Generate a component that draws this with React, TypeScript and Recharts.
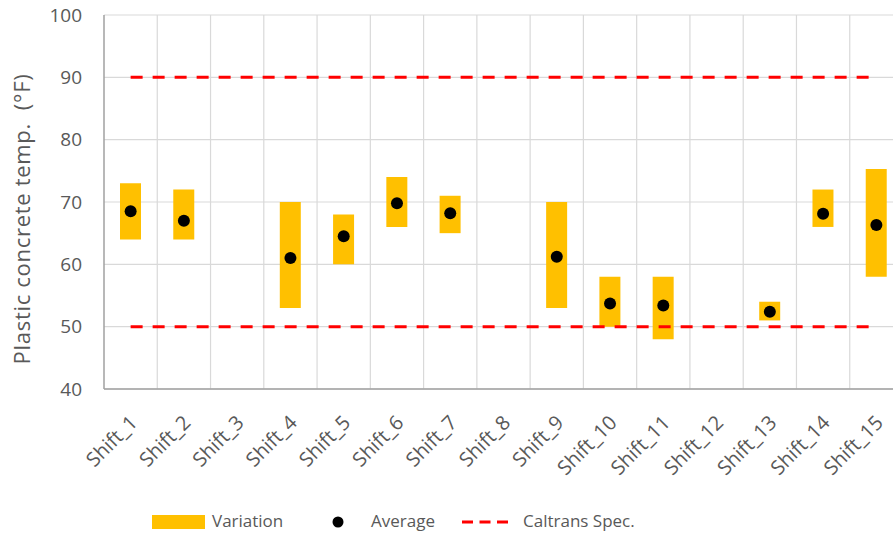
import React from 'react';
import { ComposedChart, Bar, Line, XAxis, YAxis, CartesianGrid } from 'recharts';

const shifts = ['Shift_1', 'Shift_2', 'Shift_3', 'Shift_4', 'Shift_5', 'Shift_6', 'Shift_7', 'Shift_8', 'Shift_9', 'Shift_10', 'Shift_11', 'Shift_12', 'Shift_13', 'Shift_14', 'Shift_15'];
const lowTemps = [64, 64, null, 53, 60, 66, 65, null, 53, 50, 48, null, 51, 66, 58];
const highTemps = [73, 72, null, 70, 68, 74, 71, null, 70, 58, 58, null, 54, 72, 75.3];
const avgTemps = [68.5, 67, null, 61, 64.5, 69.8, 68.2, null, 61.2, 53.7, 53.4, null, 52.4, 68.1, 66.3];
const specUpper = [90, 90, 90, 90, 90, 90, 90, 90, 90, 90, 90, 90, 90, 90, 90];
const specLower = [50, 50, 50, 50, 50, 50, 50, 50, 50, 50, 50, 50, 50, 50, 50];
const yTicks = [40, 50, 60, 70, 80, 90, 100];

const FONT = '"Open Sans", sans-serif';
const TEXT = '#595959';

const data = shifts.map((name, i) => ({
  name,
  range: lowTemps[i] == null ? null : [lowTemps[i], highTemps[i]],
  avg: avgTemps[i],
  specHigh: specUpper[i],
  specLow: specLower[i],
}));

// rotated category label, Excel style (-45deg, anchored at the end)
const ShiftTick = (props: any) => {
  const { x, y, payload } = props;
  const tx = x + 8;
  const ty = y + 27;
  return (
    <text
      x={tx}
      y={ty}
      textAnchor="end"
      transform={`rotate(-45, ${tx}, ${ty})`}
      fill={TEXT}
      fontSize={20}
      fontFamily={FONT}
    >
      {payload.value}
    </text>
  );
};

const YLabel = (props: any) => {
  const { viewBox } = props;
  const cy = viewBox.y + viewBox.height / 2 + 17;
  return (
    <text x={30} y={cy} transform={`rotate(-90, 30, ${cy})`} textAnchor="middle" fill={TEXT} fontSize={22} letterSpacing={0.7} fontFamily={FONT} xmlSpace="preserve">
      {'Plastic concrete temp.  (°F)'}
    </text>
  );
};

const legendText: React.CSSProperties = { position: 'absolute', top: 509, color: TEXT, fontSize: 17, fontFamily: FONT, whiteSpace: 'pre' };

export default function App() {
  return (
    <div style={{ position: 'absolute', left: 0, top: 0, width: 893, height: 538, overflow: 'hidden', background: '#fff' }}>
      <ComposedChart width={910} height={538} data={data} margin={{ top: 15, right: 7, left: 44, bottom: 0 }}>
        <CartesianGrid
          stroke="#d9d9d9"
          strokeWidth={1.2}
          verticalCoordinatesGenerator={({ offset }: any) =>
            shifts.map((_, i) => offset.left + ((i + 1) * offset.width) / shifts.length)
          }
        />
        <XAxis
          dataKey="name"
          interval={0}
          height={149}
          tickLine={false}
          axisLine={{ stroke: '#a0a0a0', strokeWidth: 1.5 }}
          tick={<ShiftTick />}
        />
        <YAxis
          domain={[40, 100]}
          ticks={yTicks}
          width={60}
          tickSize={0}
          tickMargin={22}
          tickLine={false}
          axisLine={{ stroke: '#a0a0a0', strokeWidth: 1.5 }}
          tick={{ fill: TEXT, fontSize: 19, fontFamily: FONT }}
          label={<YLabel />}
        />
        <Bar dataKey="range" fill="#FFC000" barSize={21} isAnimationActive={false} />
        <Line dataKey="specHigh" stroke="#FF0000" strokeWidth={3} strokeDasharray="12 10" dot={false} activeDot={false} isAnimationActive={false} />
        <Line dataKey="specLow" stroke="#FF0000" strokeWidth={3} strokeDasharray="12 10" dot={false} activeDot={false} isAnimationActive={false} />
        <Line dataKey="avg" stroke="none" dot={{ r: 6, fill: '#000', stroke: 'none' }} activeDot={false} isAnimationActive={false} />
      </ComposedChart>

      {/* legend */}
      <svg style={{ position: 'absolute', left: 0, top: 0 }} width={893} height={538} pointerEvents="none">
        <rect x={152} y={515} width={53} height={14} fill="#FFC000" />
        <circle cx={338} cy={522} r={5.5} fill="#000" />
        <line x1={462} y1={522} x2={508} y2={522} stroke="#FF0000" strokeWidth={3} strokeDasharray="11 6.5" />
      </svg>
      <div style={{ ...legendText, left: 212 }}>Variation</div>
      <div style={{ ...legendText, left: 371 }}>Average</div>
      <div style={{ ...legendText, left: 523 }}>Caltrans Spec.</div>
    </div>
  );
}
